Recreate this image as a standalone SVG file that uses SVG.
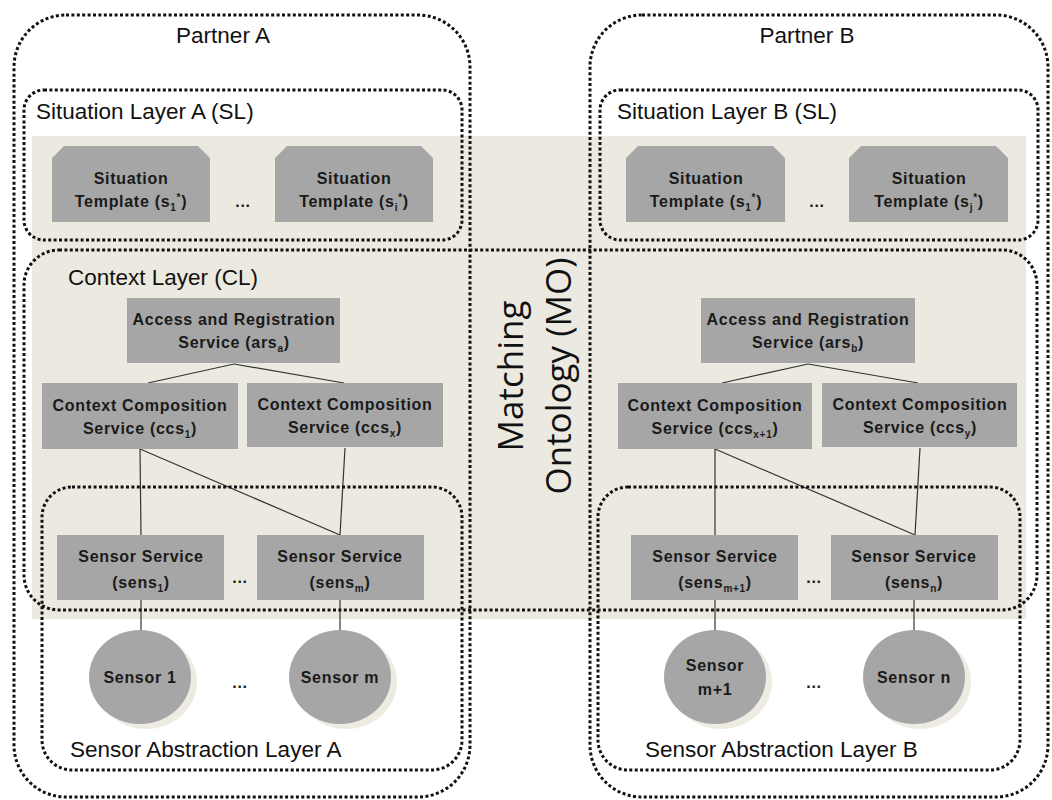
<svg xmlns="http://www.w3.org/2000/svg" width="1052" height="800" viewBox="0 0 1052 800">
<style>
.dot{fill:none;stroke:#111;stroke-width:3;stroke-dasharray:3 2.4}
.box{fill:#A6A6A6}
.nt{font-family:"Liberation Sans",Arial,sans-serif;font-weight:bold;font-size:16px;fill:#1a1a1a;text-anchor:middle;letter-spacing:0.7px}
.lb{font-family:"Liberation Sans",Arial,sans-serif;font-size:22.5px;fill:#111}
.mo{font-family:"Open Sans","Liberation Sans",sans-serif;font-size:35px;fill:#111;text-anchor:middle}
.ln{stroke:#333;stroke-width:1.2;fill:none}
.sh{fill:#EDEBE2}
</style>
<rect width="1052" height="800" fill="#fff"/>
<rect x="32" y="136" width="994" height="483" fill="#ECEAE0"/>

<g id="matching-ontology">
<text class="mo" transform="translate(523,376) rotate(-90)">Matching</text>
<text class="mo" transform="translate(571,376) rotate(-90)">Ontology (MO)</text>
</g>

<g id="connectors">
<line class="ln" x1="234" y1="364" x2="148" y2="383"/>
<line class="ln" x1="234" y1="364" x2="344" y2="383"/>
<line class="ln" x1="140" y1="449" x2="141" y2="535"/>
<line class="ln" x1="140" y1="449" x2="340" y2="535"/>
<line class="ln" x1="345" y1="448" x2="340" y2="535"/>
<line class="ln" x1="141" y1="600" x2="141" y2="630"/>
<line class="ln" x1="340" y1="600" x2="340" y2="630"/>
<line class="ln" x1="808" y1="364" x2="722" y2="383"/>
<line class="ln" x1="808" y1="364" x2="918" y2="383"/>
<line class="ln" x1="715" y1="449" x2="715" y2="535"/>
<line class="ln" x1="715" y1="449" x2="915" y2="535"/>
<line class="ln" x1="920" y1="448" x2="915" y2="535"/>
<line class="ln" x1="715" y1="600" x2="715" y2="630"/>
<line class="ln" x1="914" y1="600" x2="914" y2="630"/>
</g>

<g id="st-a1"><path class="box" d="M64,146 H198 L210,158 V222 H52 V158 Z"/>
<text class="nt" x="131" y="184">Situation</text>
<text class="nt" x="131" y="207">Template (s<tspan font-size="10" dy="4">1</tspan><tspan font-size="10" dy="-10">*</tspan><tspan dy="6">)</tspan></text></g>
<g id="st-ai"><path class="box" d="M287,146 H421 L433,158 V222 H275 V158 Z"/>
<text class="nt" x="354" y="184">Situation</text>
<text class="nt" x="354" y="207">Template (s<tspan font-size="10" dy="4">i</tspan><tspan font-size="10" dy="-10">*</tspan><tspan dy="6">)</tspan></text></g>
<text class="nt" x="243" y="207">...</text>
<g id="st-b1"><path class="box" d="M638,146 H773 L785,158 V222 H626 V158 Z"/>
<text class="nt" x="706" y="184">Situation</text>
<text class="nt" x="706" y="207">Template (s<tspan font-size="10" dy="4">1</tspan><tspan font-size="10" dy="-10">*</tspan><tspan dy="6">)</tspan></text></g>
<g id="st-bj"><path class="box" d="M861,146 H996 L1008,158 V222 H849 V158 Z"/>
<text class="nt" x="929" y="184">Situation</text>
<text class="nt" x="929" y="207">Template (s<tspan font-size="10" dy="4">j</tspan><tspan font-size="10" dy="-10">*</tspan><tspan dy="6">)</tspan></text></g>
<text class="nt" x="817" y="207">...</text>

<g id="ars-a"><rect class="box" x="127" y="298" width="213" height="65"/>
<text class="nt" x="234" y="325">Access and Registration</text>
<text class="nt" x="234" y="348">Service (ars<tspan font-size="10" dy="4">a</tspan><tspan dy="-4">)</tspan></text></g>
<g id="ccs-1"><rect class="box" x="42" y="383" width="196" height="66"/>
<text class="nt" x="140" y="411">Context Composition</text>
<text class="nt" x="140" y="434">Service (ccs<tspan font-size="10" dy="4">1</tspan><tspan dy="-4">)</tspan></text></g>
<g id="ccs-x"><rect class="box" x="247" y="383" width="196" height="64"/>
<text class="nt" x="345" y="410">Context Composition</text>
<text class="nt" x="345" y="433">Service (ccs<tspan font-size="10" dy="4">x</tspan><tspan dy="-4">)</tspan></text></g>
<g id="sens-1"><rect class="box" x="57" y="535" width="167" height="65"/>
<text class="nt" x="141" y="562">Sensor Service</text>
<text class="nt" x="141" y="588">(sens<tspan font-size="10" dy="4">1</tspan><tspan dy="-4">)</tspan></text></g>
<g id="sens-m"><rect class="box" x="257" y="535" width="167" height="65"/>
<text class="nt" x="340" y="562">Sensor Service</text>
<text class="nt" x="340" y="588">(sens<tspan font-size="10" dy="4">m</tspan><tspan dy="-4">)</tspan></text></g>
<text class="nt" x="240" y="583">...</text>
<g id="sensor-1"><ellipse class="sh" cx="146" cy="682" rx="51" ry="47"/><ellipse class="box" cx="140" cy="677" rx="51" ry="47"/>
<text class="nt" x="140" y="683">Sensor 1</text></g>
<g id="sensor-m"><ellipse class="sh" cx="346" cy="682" rx="51" ry="47"/><ellipse class="box" cx="340" cy="677" rx="51" ry="47"/>
<text class="nt" x="340" y="683">Sensor m</text></g>
<text class="nt" x="240" y="688">...</text>

<g id="ars-b"><rect class="box" x="701" y="298" width="214" height="65"/>
<text class="nt" x="808" y="325">Access and Registration</text>
<text class="nt" x="808" y="348">Service (ars<tspan font-size="10" dy="4">b</tspan><tspan dy="-4">)</tspan></text></g>
<g id="ccs-x1"><rect class="box" x="618" y="383" width="194" height="66"/>
<text class="nt" x="715" y="411">Context Composition</text>
<text class="nt" x="715" y="434">Service (ccs<tspan font-size="10" dy="4">x+1</tspan><tspan dy="-4">)</tspan></text></g>
<g id="ccs-y"><rect class="box" x="822" y="383" width="195" height="64"/>
<text class="nt" x="920" y="410">Context Composition</text>
<text class="nt" x="920" y="433">Service (ccs<tspan font-size="10" dy="4">y</tspan><tspan dy="-4">)</tspan></text></g>
<g id="sens-m1"><rect class="box" x="631" y="535" width="167" height="65"/>
<text class="nt" x="715" y="562">Sensor Service</text>
<text class="nt" x="715" y="588">(sens<tspan font-size="10" dy="4">m+1</tspan><tspan dy="-4">)</tspan></text></g>
<g id="sens-n"><rect class="box" x="831" y="535" width="167" height="65"/>
<text class="nt" x="914" y="562">Sensor Service</text>
<text class="nt" x="914" y="588">(sens<tspan font-size="10" dy="4">n</tspan><tspan dy="-4">)</tspan></text></g>
<text class="nt" x="814" y="583">...</text>
<g id="sensor-m1"><ellipse class="sh" cx="721" cy="682" rx="51" ry="47"/><ellipse class="box" cx="715" cy="677" rx="51" ry="47"/>
<text class="nt" x="715" y="671">Sensor</text><text class="nt" x="715" y="695">m+1</text></g>
<g id="sensor-n"><ellipse class="sh" cx="920" cy="682" rx="51" ry="47"/><ellipse class="box" cx="914" cy="677" rx="51" ry="47"/>
<text class="nt" x="914" y="683">Sensor n</text></g>
<text class="nt" x="814" y="688">...</text>

<g id="partner-a"><rect class="dot" x="14" y="15" width="456" height="782" rx="52"/>
<text class="lb" x="223" y="43" text-anchor="middle">Partner A</text></g>
<g id="partner-b"><rect class="dot" x="590" y="15" width="458" height="782" rx="52"/>
<text class="lb" x="807" y="43" text-anchor="middle">Partner B</text></g>
<g id="situation-layer-a"><rect class="dot" x="24" y="90" width="438" height="150" rx="20"/>
<text class="lb" x="36" y="119">Situation Layer A (SL)</text></g>
<g id="situation-layer-b"><rect class="dot" x="600" y="90" width="438" height="150" rx="20"/>
<text class="lb" x="617" y="119">Situation Layer B (SL)</text></g>
<g id="context-layer"><rect class="dot" x="24" y="250" width="1013" height="360" rx="35"/>
<text class="lb" x="68" y="285">Context Layer (CL)</text></g>
<g id="sal-a"><rect class="dot" x="42" y="487" width="420" height="283" rx="30"/>
<text class="lb" x="70" y="757">Sensor Abstraction Layer A</text></g>
<g id="sal-b"><rect class="dot" x="598" y="487" width="422" height="283" rx="30"/>
<text class="lb" x="645" y="757">Sensor Abstraction Layer B</text></g>
</svg>
